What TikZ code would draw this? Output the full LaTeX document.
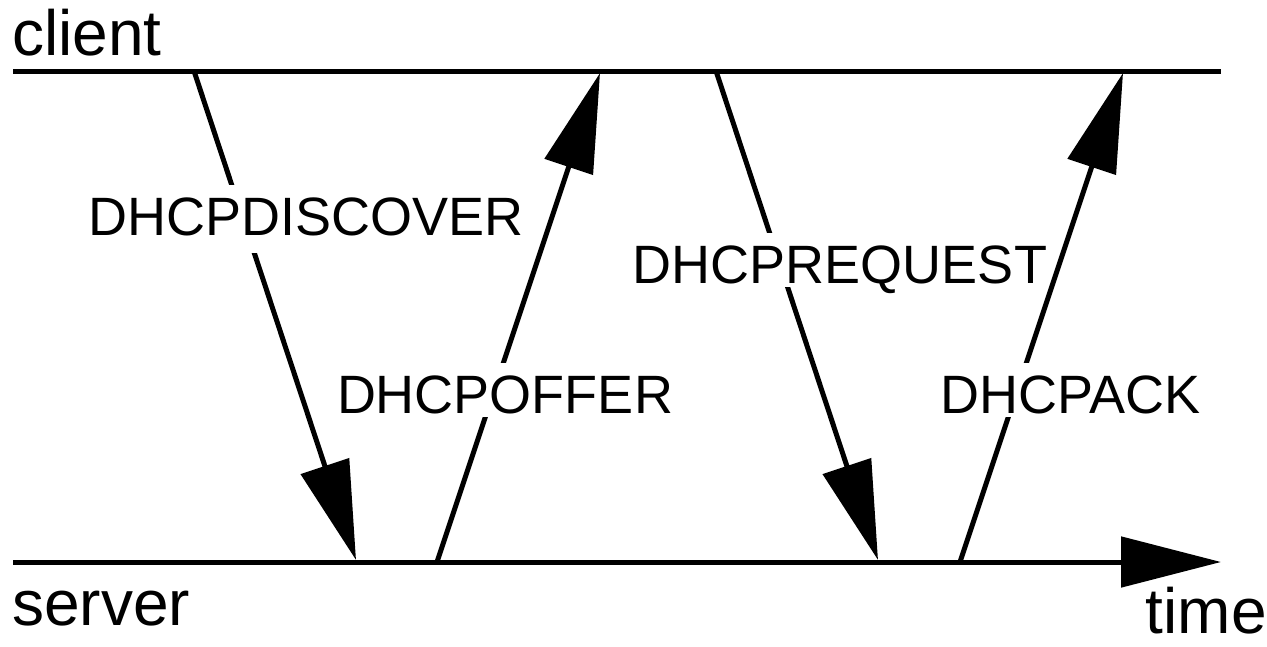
\documentclass[tikz,border=0pt]{standalone}
\usepackage{fontspec}
\setmainfont{Liberation Sans}
\usetikzlibrary{arrows.meta}
\tikzset{
  axisline/.style={line width=5pt, line cap=butt},
  msg/.style={line width=5pt, line cap=butt, -{Triangle[length=99pt,width=50pt]}},
  lbl/.style={fill=white, inner xsep=1pt, inner ysep=0pt, text height=50pt, text depth=4pt, anchor=base,
    font=\fontsize{54}{60}\selectfont},
  partlbl/.style={inner sep=0pt, font=\fontsize{64}{70}\selectfont}
}
\begin{document}
\begin{tikzpicture}[x=1pt,y=-1pt]
\useasboundingbox (0,0) rectangle (1267,646);
% time lines
\coordinate (cl0) at (13,71);
\coordinate (cl1) at (1221,71);
\coordinate (sl0) at (13,562);
\coordinate (sl1) at (1221,562);
\draw[axisline] (cl0) -- (cl1);
\draw[axisline, -{Triangle[length=100pt,width=50pt]}] (sl0) -- (sl1);
% message end points
\coordinate (d0) at (194,71);
\coordinate (d1) at (356,560);
\coordinate (o0) at (437,562);
\coordinate (o1) at (600,73);
\coordinate (r0) at (716,71);
\coordinate (r1) at (878,560);
\coordinate (a0) at (960,562);
\coordinate (a1) at (1123,73);
\draw[msg] (d0) -- (d1);
\draw[msg] (o0) -- (o1);
\draw[msg] (r0) -- (r1);
\draw[msg] (a0) -- (a1);
% labels
\node[lbl, text depth=18pt] (ldisc) at (306,235) {DHCPDISCOVER};
\node[lbl] (loffer) at (505,413) {DHCPOFFER};
\node[lbl] (lreq) at (840,283) {DHCPREQUEST};
\node[lbl] (lack) at (1071,413) {DHCPACK};
\node[partlbl, anchor=base west] (client) at (12,55) {client};
\node[partlbl, anchor=base west] (server) at (12,625) {server};
\node[partlbl, anchor=base east] (time) at (1267,633) {time};
\end{tikzpicture}
\end{document}
